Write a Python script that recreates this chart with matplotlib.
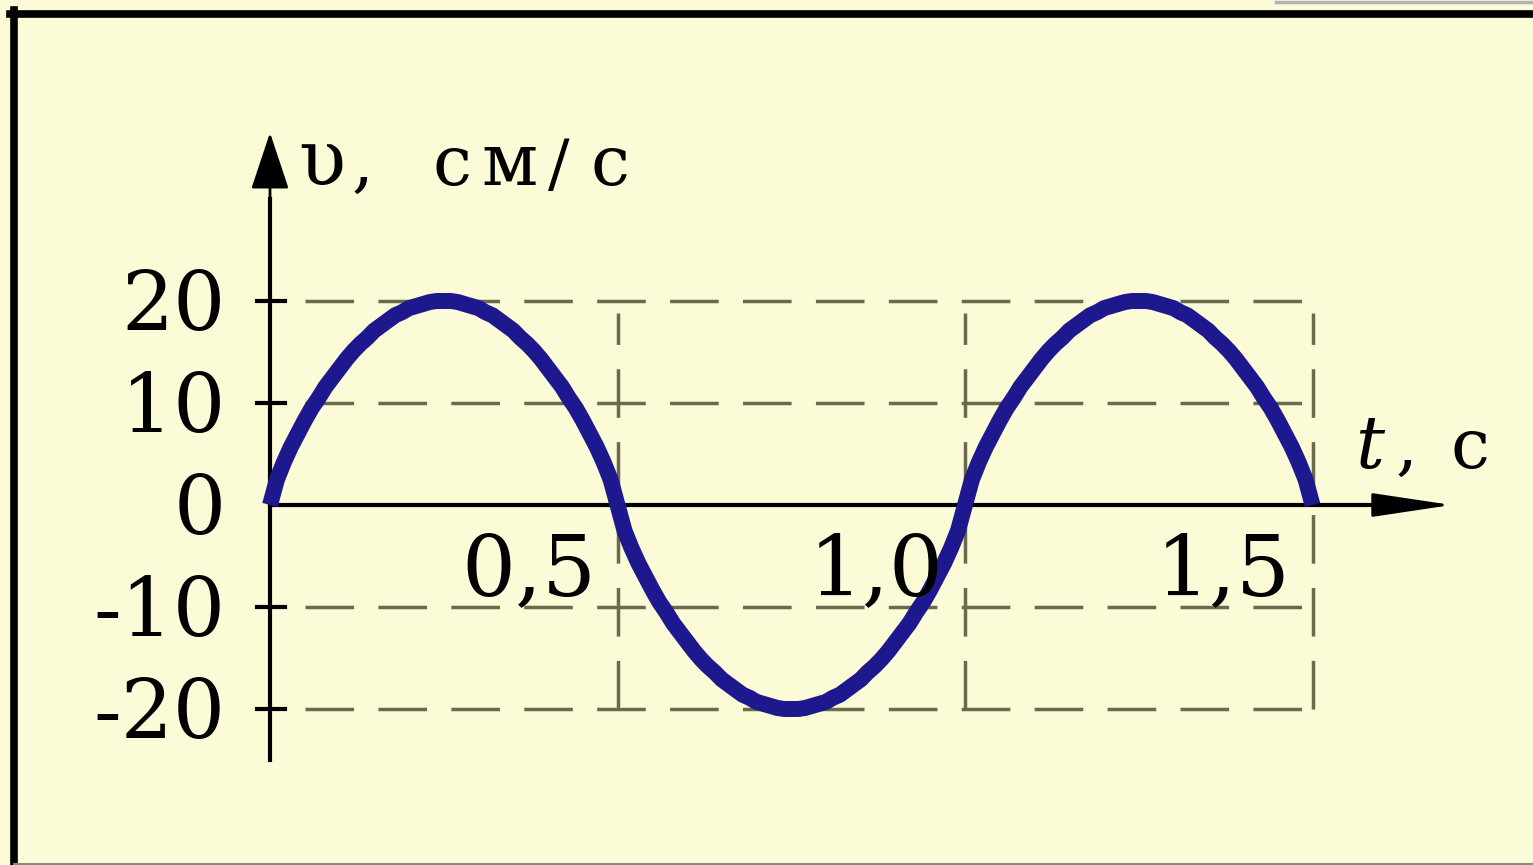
import matplotlib
matplotlib.use("Agg")
import matplotlib.pyplot as plt
from matplotlib.lines import Line2D

plt.rcParams["path.simplify"] = False

# ------------------------------------------------------------
# Dados do gráfico (a cada 0,01 s)
# ------------------------------------------------------------
t_curva = [
    0.00, 0.01, 0.02, 0.03, 0.04, 0.05, 0.06, 0.07, 0.08, 0.09,
    0.10, 0.11, 0.12, 0.13, 0.14, 0.15, 0.16, 0.17, 0.18, 0.19,
    0.20, 0.21, 0.22, 0.23, 0.24, 0.25, 0.26, 0.27, 0.28, 0.29,
    0.30, 0.31, 0.32, 0.33, 0.34, 0.35, 0.36, 0.37, 0.38, 0.39,
    0.40, 0.41, 0.42, 0.43, 0.44, 0.45, 0.46, 0.47, 0.48, 0.49,
    0.50, 0.51, 0.52, 0.53, 0.54, 0.55, 0.56, 0.57, 0.58, 0.59,
    0.60, 0.61, 0.62, 0.63, 0.64, 0.65, 0.66, 0.67, 0.68, 0.69,
    0.70, 0.71, 0.72, 0.73, 0.74, 0.75, 0.76, 0.77, 0.78, 0.79,
    0.80, 0.81, 0.82, 0.83, 0.84, 0.85, 0.86, 0.87, 0.88, 0.89,
    0.90, 0.91, 0.92, 0.93, 0.94, 0.95, 0.96, 0.97, 0.98, 0.99,
    1.00, 1.01, 1.02, 1.03, 1.04, 1.05, 1.06, 1.07, 1.08, 1.09,
    1.10, 1.11, 1.12, 1.13, 1.14, 1.15, 1.16, 1.17, 1.18, 1.19,
    1.20, 1.21, 1.22, 1.23, 1.24, 1.25, 1.26, 1.27, 1.28, 1.29,
    1.30, 1.31, 1.32, 1.33, 1.34, 1.35, 1.36, 1.37, 1.38, 1.39,
    1.40, 1.41, 1.42, 1.43, 1.44, 1.45, 1.46, 1.47, 1.48, 1.49,
    1.50,
]
v_curva = [
    0.0, 2.5, 4.2, 5.7, 7.0, 8.3, 9.5, 10.5, 11.6, 12.5,
    13.4, 14.3, 15.1, 15.8, 16.4, 17.1, 17.6, 18.1, 18.6, 18.9,
    19.3, 19.5, 19.7, 19.9, 20.0, 20.0, 20.0, 19.9, 19.7, 19.5,
    19.3, 18.9, 18.6, 18.1, 17.6, 17.1, 16.4, 15.8, 15.1, 14.3,
    13.4, 12.5, 11.6, 10.5, 9.5, 8.3, 7.0, 5.7, 4.2, 2.5,
    0.0, -2.5, -4.2, -5.7, -7.0, -8.3, -9.5, -10.5, -11.6, -12.5,
    -13.4, -14.3, -15.1, -15.8, -16.4, -17.1, -17.6, -18.1, -18.6, -18.9,
    -19.3, -19.5, -19.7, -19.9, -20.0, -20.0, -20.0, -19.9, -19.7, -19.5,
    -19.3, -18.9, -18.6, -18.1, -17.6, -17.1, -16.4, -15.8, -15.1, -14.3,
    -13.4, -12.5, -11.6, -10.5, -9.5, -8.3, -7.0, -5.7, -4.2, -2.5,
    0.0, 2.5, 4.2, 5.7, 7.0, 8.3, 9.5, 10.5, 11.6, 12.5,
    13.4, 14.3, 15.1, 15.8, 16.4, 17.1, 17.6, 18.1, 18.6, 18.9,
    19.3, 19.5, 19.7, 19.9, 20.0, 20.0, 20.0, 19.9, 19.7, 19.5,
    19.3, 18.9, 18.6, 18.1, 17.6, 17.1, 16.4, 15.8, 15.1, 14.3,
    13.4, 12.5, 11.6, 10.5, 9.5, 8.3, 7.0, 5.7, 4.2, 2.5,
    0.0,
]
t_ticks = [0.5, 1.0, 1.5]
t_labels = ["0,5", "1,0", "1,5"]
v_ticks = [20, 10, 0, -10, -20]
v_labels = ["20", "10", "0", "-10", "-20"]
grade_v = [20, 10, -10, -20]
grade_t = [0.5, 1.0, 1.5]

# ------------------------------------------------------------
# Estilo
# ------------------------------------------------------------
fundo = "#fbfbd8"
cor_curva = "#1e188e"
cor_grade = "#6b6a4a"
fonte = ["DejaVu Serif"]

fig = plt.figure(figsize=(15.33, 8.65), dpi=100, facecolor=fundo)
ax = fig.add_axes([0, 0, 1, 1])
ax.set_facecolor(fundo)
ax.set_xlim(-270 / 695, 1263 / 695)
ax.set_ylim(-360 / 10.2, 505 / 10.2)
ax.axis("off")

# grade tracejada
for v in grade_v:
    ax.plot([0.05, 1.5], [v, v], color=cor_grade, lw=2.5,
            dashes=(14, 7), zorder=1)
for t in grade_t:
    ax.plot([t, t], [-20, 18.8], color=cor_grade, lw=2.5,
            dashes=(14, 7), zorder=1)

# curva v(t)
ax.plot(t_curva, v_curva, color=cor_curva, lw=11.5, snap=False,
        solid_joinstyle="round", solid_capstyle="butt", zorder=3)

# eixos com setas
ax.plot([0, 0], [-25, 30], color="black", lw=3, zorder=2)
ax.annotate("", xy=(0, 36.5), xytext=(0, 28),
            arrowprops=dict(arrowstyle="-|>,head_length=3.6,head_width=1.2",
                            color="black", lw=2, mutation_scale=10,
                            shrinkA=0, shrinkB=0), zorder=4)
ax.plot([0, 1.6], [0, 0], color="black", lw=3, zorder=2)
ax.annotate("", xy=(1.70, 0), xytext=(1.58, 0),
            arrowprops=dict(arrowstyle="-|>,head_length=5.0,head_width=0.75",
                            color="black", lw=2, mutation_scale=10,
                            shrinkA=0, shrinkB=0), zorder=4)

# marcas e rótulos do eixo v
for val, lab in zip(v_ticks, v_labels):
    if val != 0:
        ax.plot([-0.019, 0.022], [val, val], color="black", lw=3, zorder=2)
    ax.text(-0.064, val - 2.95, lab, ha="right", va="baseline",
            fontsize=59, family=fonte, color="black")

# rótulos do eixo t
for val, lab in zip(t_ticks, t_labels):
    ax.text(val - 0.128, -8.8, lab, ha="center", va="baseline",
            fontsize=61, family=fonte, color="black")

# nome do eixo v: "υ, см/с"
for px, ch, fs in [(298, "υ", 56), (352, ",", 50), (432, "с", 50),
                   (481, "м", 52), (548, "/", 46), (590, "с", 50)]:
    ax.text((px - 270) / 695, 31.4, ch, ha="left", va="baseline",
            fontsize=fs, family=fonte, color="black")

# nome do eixo t: "t, с"
ax.text((1355 - 270) / 695, 3.6, "t", ha="left", va="baseline", fontsize=52,
        family=fonte, style="italic", color="black")
ax.text((1396 - 270) / 695, 3.6, ",", ha="left", va="baseline", fontsize=50,
        family=fonte, color="black")
ax.text((1450 - 270) / 695, 3.6, "с", ha="left", va="baseline", fontsize=50,
        family=fonte, color="black")

# moldura
fig.add_artist(Line2D([14 / 1533, 14 / 1533], [0, 1 - 10 / 865],
                      transform=fig.transFigure, color="black", lw=5.5))
fig.add_artist(Line2D([10 / 1533, 1], [1 - 14 / 865, 1 - 14 / 865],
                      transform=fig.transFigure, color="black", lw=5.5))
fig.add_artist(Line2D([14 / 1533, 1], [1.5 / 865, 1.5 / 865],
                      transform=fig.transFigure, color="#8a8a80", lw=1.5))
fig.add_artist(Line2D([1276 / 1533, 1], [1 - 1.5 / 865, 1 - 1.5 / 865],
                      transform=fig.transFigure, color="#b2b2b2", lw=2.5))

fig.savefig("out.png", dpi=100, facecolor=fundo)
